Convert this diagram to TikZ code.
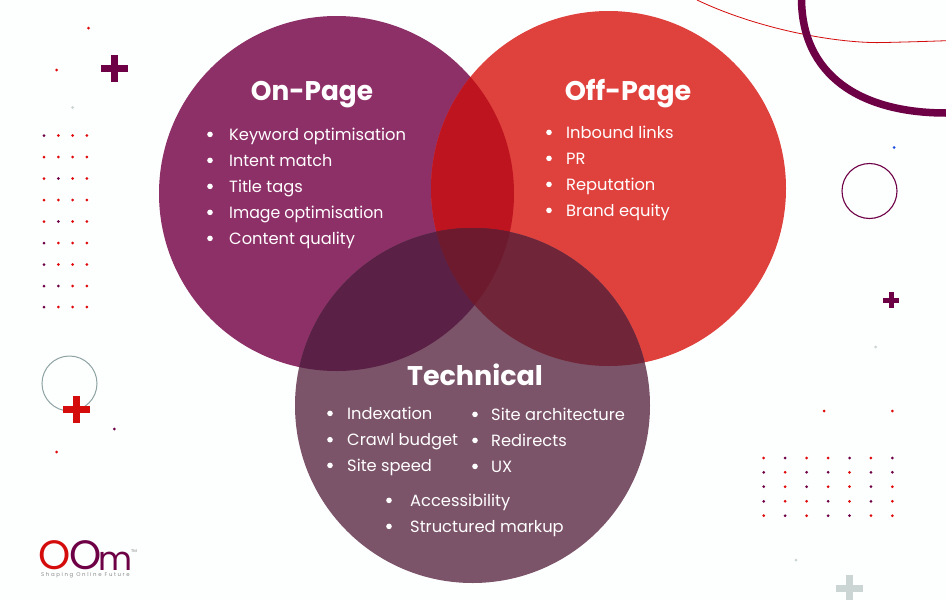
\documentclass[tikz,border=0pt]{standalone}
\usepackage{fontspec}
\setmainfont{Poppins}
\definecolor{bgc}{HTML}{FDFEFE}
\definecolor{onc}{HTML}{8E3068}
\definecolor{offc}{HTML}{DF413D}
\definecolor{techc}{HTML}{7C5469}
\definecolor{onoff}{HTML}{BE141F}
\definecolor{ontech}{HTML}{5A2045}
\definecolor{offtech}{HTML}{712538}
\definecolor{triple}{HTML}{6E1A2E}
\definecolor{plum}{HTML}{6E0046}
\definecolor{redd}{HTML}{E00A0A}
\definecolor{redp}{HTML}{D40C0C}
\definecolor{grayc}{HTML}{CBD5D3}
\definecolor{ringg}{HTML}{8FA3A3}
\definecolor{blued}{HTML}{2050E0}
\tikzset{
  x=1pt,y=-1pt,
  title/.style={text=white,font=\fontsize{27}{27}\selectfont\bfseries,anchor=base,inner sep=0pt},
  item/.style={text=white,font=\fontsize{16.3}{17}\selectfont,anchor=base west,inner sep=0pt},
  bul/.style={circle,fill=white,minimum size=5.6pt,inner sep=0pt},
  dotr/.style={circle,fill=redd,minimum size=3pt,inner sep=0pt},
  dotp/.style={circle,fill=plum,minimum size=3pt,inner sep=0pt},
  dotg/.style={circle,fill=grayc,minimum size=3pt,inner sep=0pt},
  dotb/.style={circle,fill=blued,minimum size=3pt,inner sep=0pt},
}
\newcommand{\plusm}[5]{% cx, cy, half size, half thick, colour
  \fill[#5] (#1-#3,#2-#4) rectangle (#1+#3,#2+#4);
  \fill[#5] (#1-#4,#2-#3) rectangle (#1+#4,#2+#3);
}
\newcommand{\entry}[5]{% name, bullet x, text x, baseline, text
  \node[bul] (#1b) at (#2,#4-5.6) {};
  \node[item] (#1) at (#3,#4) {#5};
}
\begin{document}
\begin{tikzpicture}
\useasboundingbox (0,0) rectangle (946,600);
\clip (0,0) rectangle (946,600);
\fill[bgc] (0,0) rectangle (946,600);
% decoration
\draw[redp,line width=0.8pt] (697,0) .. controls (760,30) and (840,44) .. (885,42.5) .. controls (905,42) and (925,41.5) .. (946,40.7);
\draw[plum,line width=7.5pt] (801.5,-3) .. controls (801,75) and (860,113) .. (946,113);
\draw[plum,line width=1.1pt] (869.5,191) circle (27.5);
\draw[ringg,line width=1pt] (69.5,383.5) circle (27.5);
\foreach \x/\y/\s in {88.5/28/dotr,56.7/70/dotr,72.7/107.5/dotg,114.3/429/dotp,56.7/452/dotr,894/147.5/dotb,875.7/347/dotg,824/411/dotr,892.3/411/dotr,796/560/dotg}
  \node[\s] at (\x,\y) {};
% dot grids
\foreach \row/\y/\cols in {1/135.5/{p,r,r,r},2/157/{r,r,r,r},3/178.5/{r,p,r,r},4/200/{r,r,r,r},5/221.5/{r,p,r,r},6/243/{p,r,r,r},7/264.5/{p,r,r,r},8/286/{p,p,r,r},9/307/{p,r,r,r}}{
  \foreach \c [count=\i from 0] in \cols
    \node[dot\c] at (44+14.33*\i,\y) {};
}
\foreach \row/\y/\cols in {1/458/{r,p,r,r,p,r,p},2/472.3/{p,r,p,p,r,p,p},3/486.7/{p,r,p,r,r,p,r},4/501.3/{p,r,r,p,r,p,r},5/515.7/{r,p,r,p,p,r,r}}{
  \foreach \c [count=\i from 0] in \cols
    \node[dot\c] at (763.7+21.45*\i,\y) {};
}
% pluses
\plusm{114.5}{68.5}{13.5}{3.5}{plum}
\plusm{76.7}{409}{13.5}{3.5}{redp}
\plusm{891}{300}{8}{2.5}{plum}
\plusm{849.5}{588}{13.5}{3.5}{grayc}
% Venn
\def\rr{177.5}
\def\cA{(336.5,193.5) circle (\rr)}
\def\cB{(608.5,188.5) circle (\rr)}
\def\cC{(472.5,405.5) circle (\rr)}
\fill[onc] \cA;
\fill[offc] \cB;
\fill[techc] \cC;
\begin{scope}\clip \cA; \fill[onoff] \cB; \fill[ontech] \cC; \end{scope}
\begin{scope}\clip \cB; \fill[offtech] \cC; \end{scope}
\begin{scope}\clip \cA; \clip \cB; \fill[triple] \cC; \end{scope}
% titles
\node[title] (on) at (312,100.7) {\scalebox{.975}[1]{On-Page}};
\node[title] (off) at (628,100.7) {Off-Page};
\node[title] (tech) at (475,385) {Technical};
% lists
\entry{a1}{210}{229}{140}{Keyword optimisation}
\entry{a2}{210}{229}{166}{\scalebox{.98}[1]{Intent match}}
\entry{a3}{210}{229}{192}{Title tags}
\entry{a4}{210}{229}{218}{\scalebox{.965}[1]{Image optimisation}}
\entry{a5}{210}{229}{244}{Content quality}
\entry{b1}{549}{566}{138}{Inbound links}
\entry{b2}{549}{566}{164}{PR}
\entry{b3}{549}{566}{190}{Reputation}
\entry{b4}{549}{566}{216}{Brand equity}
\entry{c1}{330}{347}{419}{Indexation}
\entry{c2}{330}{347}{445.3}{Crawl budget}
\entry{c3}{330}{347}{471}{Site speed}
\entry{d1}{475}{491}{420}{Site architecture}
\entry{d2}{475}{491}{446}{Redirects}
\entry{d3}{475}{491}{472}{UX}
\entry{e1}{389}{410}{506}{Accessibility}
\entry{e2}{389}{410}{532}{Structured markup}
% logo
\node[inner sep=0pt,anchor=center,text=redp,font=\fontsize{41}{41}\selectfont] (logo1) at (54.4,555.5) {O};
\node[inner sep=0pt,anchor=center,text=plum,font=\fontsize{41}{41}\selectfont] (logo2) at (85.4,555.5) {O};
\node[inner sep=0pt,anchor=base west,text=plum,font=\fontsize{33}{33}\selectfont] (logo3) at (98.5,570) {m};
\node[inner sep=0pt,anchor=base west,text=gray,font=\fontsize{4}{4}\selectfont] (tm) at (131,552) {TM};
\node[inner sep=0pt,anchor=base west,text=gray!90,font=\fontsize{5.4}{6}\selectfont\addfontfeatures{LetterSpace=30}] (tag) at (41,576.5) {Shaping Online Future};
\end{tikzpicture}
\end{document}
